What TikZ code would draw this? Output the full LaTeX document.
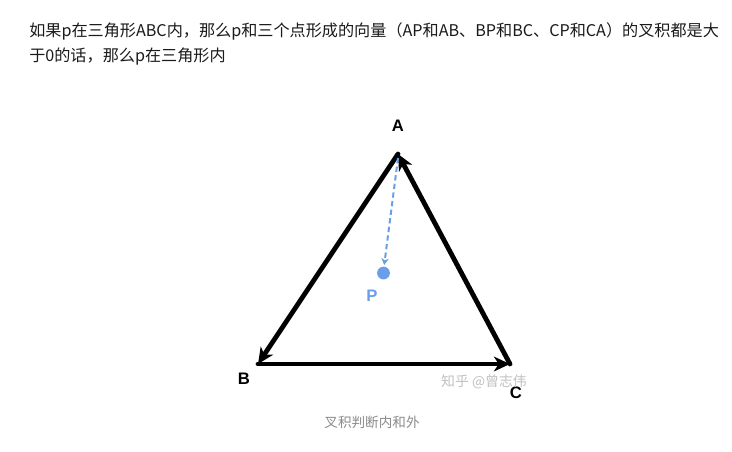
\documentclass[tikz,border=0pt]{standalone}
\usepackage{fontspec}
\setmainfont{Liberation Sans}
\newfontfamily\cjk{Noto Sans CJK SC}
\usetikzlibrary{arrows.meta}
\definecolor{txt}{HTML}{1A1A1A}
\definecolor{pblue}{HTML}{6A9EE8}
\definecolor{capgray}{HTML}{8A8A8A}
\definecolor{wmgray}{HTML}{C0C0C0}
\tikzset{
  edge/.style={line width=3.6pt, line cap=round, -{Stealth[length=12pt,width=11pt,inset=3.5pt]}},
  vlabel/.style={font=\fontsize{12.5pt}{14pt}\selectfont\bfseries, text=black, inner sep=0pt},
  body/.style={font=\cjk\fontsize{12.1pt}{14pt}\selectfont, text=txt, inner sep=0pt, anchor=base west},
}
\begin{document}
\begin{tikzpicture}[x=0.75pt,y=-0.75pt]
\useasboundingbox (0,0) rectangle (732,451);
\node[body] (l1) at (29,36) {如果p在三角形ABC内，那么p和三个点形成的向量（AP和AB、BP和BC、CP和CA）的叉积都是大};
\node[body] (l2) at (29,61) {于0的话，那么p在三角形内};
\coordinate (A) at (398,154);
\coordinate (B) at (258,364);
\coordinate (C) at (510,364);
\coordinate (P) at (383.5,273);
\coordinate (Ptop) at (384.2,265);
\draw[edge] (A) -- (B);
\draw[edge] (B) -- (C);
\draw[edge] (C) -- (A);
\draw[pblue, line width=1.5pt, dash pattern=on 4pt off 2.5pt, -{Stealth[length=5pt,width=5.5pt,inset=1.5pt]}] ([yshift=-3pt]A) -- (Ptop);
\fill[pblue] (P) circle (4.8pt);
\node[vlabel] (la) at (398,126) {A};
\node[vlabel] (lb) at (244,379) {B};
\node[vlabel] (lc) at (516,393) {C};
\node[vlabel, text=pblue] (lp) at (372,296) {P};
\node[font=\cjk\fontsize{10.4pt}{12pt}\selectfont, text=wmgray, inner sep=0pt] (wm) at (484,382) {知乎 @曾志伟};
\node[font=\cjk\fontsize{10.2pt}{12pt}\selectfont, text=capgray, inner sep=0pt] (cap) at (372,422) {叉积判断内和外};
\end{tikzpicture}
\end{document}
